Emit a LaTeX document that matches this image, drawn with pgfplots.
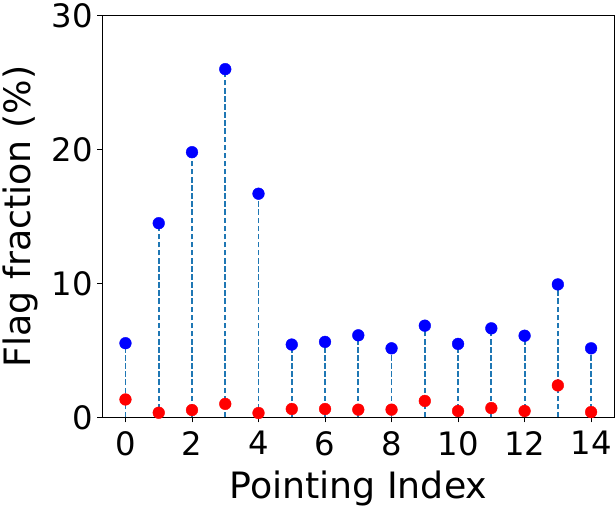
\documentclass[border=0pt]{standalone}
\usepackage{fontspec}
\setmainfont{DejaVu Sans}
\usepackage{pgfplots}
\pgfplotsset{compat=1.18}
\definecolor{tabblue}{HTML}{1F77B4}
\begin{document}
\begin{tikzpicture}
\begin{axis}[
  scale only axis,
  width=506bp, height=397bp,
  xmin=-0.7, xmax=14.7,
  ymin=0, ymax=30,
  xtick={0,2,...,14},
  ytick={0,10,20,30},
  tick align=outside,
  tick pos=left,
  major tick length=5bp,
  every tick/.style={black, line width=0.9pt},
  axis line style={black, line width=0.9pt},
  /pgf/number format/assume math mode=true,
  tick label style={font=\fontsize{32}{36}\selectfont},
  xticklabel style={yshift=-5bp},
  yticklabel style={xshift=-1bp},
  label style={font=\fontsize{36}{40}\selectfont},
  xlabel={Pointing Index},
  ylabel={Flag fraction (\%)},
  xlabel style={yshift=-8bp},
  ylabel style={yshift=6bp},
  clip=false,
]
\addplot[ycomb, tabblue, line width=1.8bp, dash pattern=on 5.5bp off 2.5bp, no marks] coordinates {
(0,5.54) (1,14.5) (2,19.8) (3,26.0) (4,16.7) (5,5.44) (6,5.64) (7,6.13) (8,5.16) (9,6.85) (10,5.49) (11,6.65) (12,6.1) (13,9.93) (14,5.16)
};
\addplot[only marks, mark=*, mark size=5.8bp, color=blue, mark options={draw=blue, fill=blue}] coordinates {
(0,5.54) (1,14.5) (2,19.8) (3,26.0) (4,16.7) (5,5.44) (6,5.64) (7,6.13) (8,5.16) (9,6.85) (10,5.49) (11,6.65) (12,6.1) (13,9.93) (14,5.16)
};
\addplot[only marks, mark=*, mark size=5.8bp, color=red, mark options={draw=red, fill=red}] coordinates {
(0,1.34) (1,0.35) (2,0.55) (3,1.01) (4,0.33) (5,0.63) (6,0.63) (7,0.58) (8,0.58) (9,1.23) (10,0.48) (11,0.70) (12,0.48) (13,2.39) (14,0.40)
};
\end{axis}
\end{tikzpicture}
\end{document}
